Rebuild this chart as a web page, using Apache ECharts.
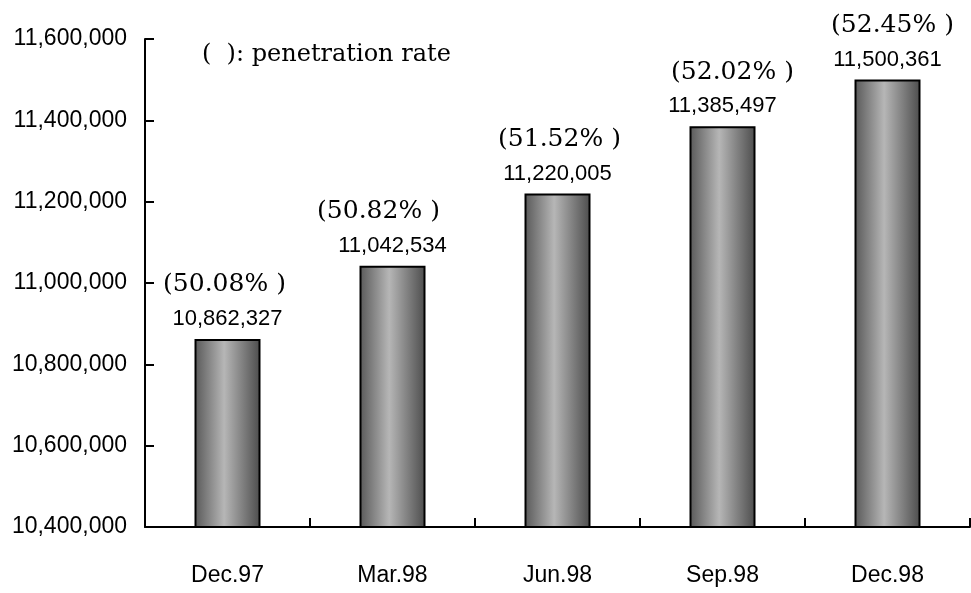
<!DOCTYPE html>
<html>
<head>
<meta charset="utf-8">
<script src="https://cdn.jsdelivr.net/npm/echarts@6/dist/echarts.min.js"></script>
<style>
  html, body { margin: 0; padding: 0; background: #fff; }
  #chart { width: 971px; height: 593px; }
</style>
</head>
<body>
<div id="chart"></div>
<script>
// Subscriber counts by quarter, with penetration rate shown above each bar
const quarters = ['Dec.97', 'Mar.98', 'Jun.98', 'Sep.98', 'Dec.98'];
const subscribers = [10862327, 11042534, 11220005, 11385497, 11500361];
const penetration = ['50.08%', '50.82%', '51.52%', '52.02%', '52.45%'];

// Horizontal nudges for the rate labels
const rateShift = [-3, -14, 2, 10, 5];

const fmt = v => Number(v).toLocaleString('en-US');
const SANS = '"Liberation Sans", Arial, sans-serif';
const SERIF = '"DejaVu Serif", "Liberation Serif", serif';

const chart = echarts.init(document.getElementById('chart'), null, { renderer: 'canvas' });

chart.setOption({
  backgroundColor: '#ffffff',
  animation: false,
  grid: { left: 145, right: 1, top: 39, bottom: 66, containLabel: false },
  xAxis: {
    type: 'category',
    data: quarters,
    boundaryGap: true,
    axisLine: { lineStyle: { color: '#000', width: 2 } },
    axisTick: { show: true, inside: true, length: 9, alignWithLabel: false, lineStyle: { color: '#000', width: 2 } },
    axisLabel: { color: '#000', fontFamily: SANS, fontSize: 23, margin: 37 },
    splitLine: { show: false }
  },
  yAxis: {
    type: 'value',
    min: 10400000,
    max: 11600000,
    interval: 200000,
    axisLine: { show: true, lineStyle: { color: '#000', width: 2 } },
    axisTick: { show: true, inside: true, length: 9, lineStyle: { color: '#000', width: 2 } },
    axisLabel: { color: '#000', fontFamily: SANS, fontSize: 23, margin: 18, formatter: v => fmt(v) },
    splitLine: { show: false }
  },
  graphic: [{
    type: 'text',
    left: 202,
    top: 43,
    style: {
      text: '(  ): penetration rate',
      font: '24px ' + SERIF,
      fill: '#000'
    }
  }],
  series: [
    {
      type: 'bar',
      data: subscribers,
      barWidth: 66,
      itemStyle: {
        borderColor: '#000',
        borderWidth: 2,
        color: new echarts.graphic.LinearGradient(0, 0, 1, 0, [
          { offset: 0, color: '#585858' },
          { offset: 0.45, color: '#b6b6b6' },
          { offset: 1, color: '#4c4c4c' }
        ])
      },
      label: {
        show: true,
        position: 'top',
        distance: 9,
        color: '#000',
        fontFamily: SANS,
        fontSize: 22,
        formatter: p => fmt(p.value)
      }
    },
    {
      type: 'scatter',
      silent: true,
      symbolSize: 0,
      itemStyle: { opacity: 1, color: '#000' },
      data: subscribers.map((v, i) => ({
        value: v,
        label: { offset: [rateShift[i], -54] }
      })),
      label: {
        show: true,
        position: 'inside',
        color: '#000',
        opacity: 1,
        fontFamily: SERIF,
        fontSize: 25,
        formatter: p => '(' + penetration[p.dataIndex] + ' )'
      }
    }
  ]
});
</script>
</body>
</html>
